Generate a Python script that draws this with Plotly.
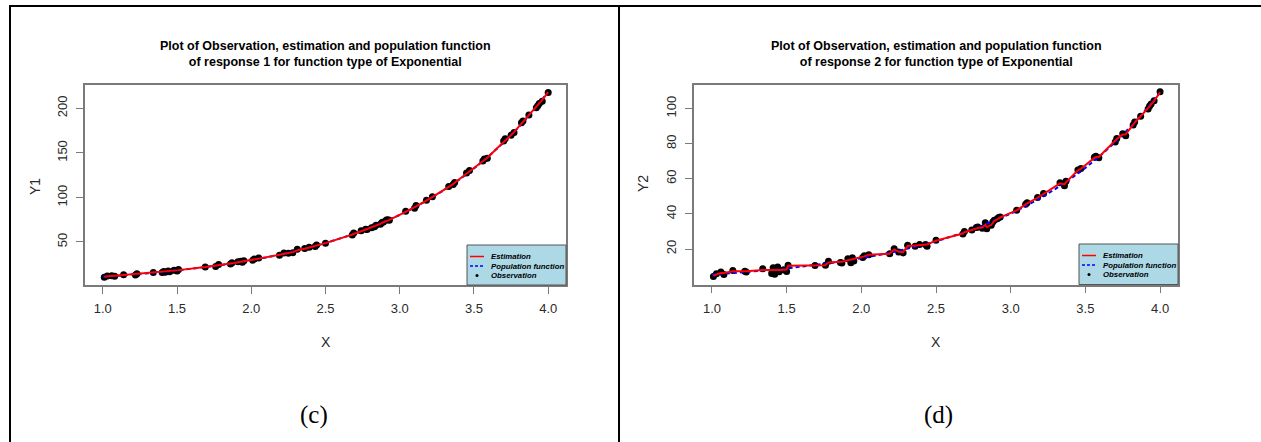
import plotly.graph_objects as go

# ---------------- data ----------------
X = [1.01, 1.03, 1.06, 1.08, 1.14, 1.22, 1.23, 1.34, 1.40, 1.41, 1.42, 1.44, 1.45, 1.48, 1.50, 1.51,
     1.69, 1.76, 1.78, 1.86, 1.87, 1.91, 1.93, 1.94, 1.95, 2.01, 2.02, 2.05, 2.19, 2.22, 2.25, 2.28,
     2.31, 2.36, 2.39, 2.43, 2.44, 2.50, 2.68, 2.69, 2.74, 2.77, 2.78, 2.81, 2.83, 2.84, 2.87, 2.88,
     2.89, 2.91, 2.92, 2.93, 3.04, 3.10, 3.11, 3.18, 3.22, 3.33, 3.36, 3.37, 3.45, 3.47, 3.56, 3.57,
     3.59, 3.70, 3.71, 3.75, 3.77, 3.82, 3.83, 3.87, 3.92, 3.93, 3.94, 3.96, 4.00]

Y1_obs = [10.5, 11.8, 12.2, 11.5, 13.2, 13.0, 14.2, 15.6, 15.8, 17.0, 16.1, 17.4, 16.6, 18.2, 17.5, 19.0,
          21.9, 22.6, 24.6, 25.2, 26.6, 27.8, 28.4, 27.3, 28.9, 29.6, 31.0, 32.0, 35.2, 37.6, 37.3, 38.0,
          41.8, 42.6, 44.2, 45.0, 46.6, 48.6, 57.8, 60.2, 62.5, 64.3, 63.9, 66.0, 67.2, 68.8, 70.0, 71.8,
          72.4, 74.6, 75.1, 74.3, 84.5, 88.0, 91.0, 97.0, 100.8, 112.2, 114.6, 116.9, 127.5, 130.2, 141.0, 143.2,
          144.0, 163.5, 166.0, 169.8, 173.0, 183.8, 186.0, 192.5, 200.8, 203.0, 205.5, 208.0, 218.0]

Y1_est = [11.0, 11.6, 12.0, 12.0, 12.9, 13.5, 13.7, 15.4, 16.0, 16.4, 16.5, 16.9, 17.0, 17.7, 17.9, 18.4,
          21.8, 23.2, 23.9, 25.6, 26.0, 27.2, 27.7, 27.9, 28.3, 29.8, 30.3, 31.3, 35.6, 36.9, 37.7, 38.6,
          40.6, 42.5, 43.8, 45.3, 45.9, 48.7, 58.2, 59.2, 62.1, 63.9, 64.3, 66.2, 67.5, 68.5, 70.3, 71.4,
          72.1, 73.8, 74.5, 74.9, 83.9, 88.6, 89.9, 96.4, 100.4, 111.9, 115.0, 116.5, 126.4, 129.1, 140.7, 142.3,
          144.6, 162.2, 164.0, 170.0, 173.4, 182.8, 184.7, 192.0, 201.4, 203.4, 205.6, 209.5, 218.2]

Y2_obs = [4.4, 5.9, 6.9, 5.5, 7.8, 7.4, 6.9, 8.8, 6.0, 9.3, 5.6, 9.8, 7.0, 8.2, 7.2, 10.7,
          10.6, 10.7, 13.1, 12.4, 12.0, 14.5, 12.2, 15.0, 13.2, 15.2, 16.2, 16.8, 17.3, 20.2, 18.3, 17.8,
          22.1, 21.6, 22.6, 22.6, 21.6, 25.0, 28.6, 30.0, 30.8, 32.2, 32.6, 31.8, 34.9, 31.6, 33.6, 35.4,
          36.4, 37.3, 37.9, 38.3, 42.1, 45.5, 46.3, 49.3, 51.6, 57.7, 56.0, 58.6, 65.0, 65.9, 72.2, 72.8,
          72.0, 81.0, 83.0, 85.6, 84.5, 90.6, 92.4, 95.6, 99.8, 101.4, 102.6, 104.4, 109.5]

Y2_est = [4.8, 5.6, 6.3, 6.4, 7.4, 7.3, 7.3, 8.0, 7.8, 7.9, 8.0, 8.0, 8.1, 8.2, 8.3, 10.5,
          10.6, 10.8, 12.4, 12.6, 12.8, 13.6, 14.0, 14.0, 14.2, 15.3, 15.8, 16.8, 17.3, 19.8, 18.5, 18.2,
          21.7, 22.0, 22.2, 22.4, 22.6, 24.8, 28.8, 29.6, 30.6, 31.6, 32.0, 32.2, 33.8, 32.4, 33.8, 35.0,
          36.0, 36.9, 37.5, 38.0, 42.0, 45.2, 46.0, 49.2, 51.5, 57.4, 56.8, 58.0, 64.8, 65.7, 71.9, 72.4,
          72.4, 81.4, 82.6, 85.2, 85.4, 90.8, 92.0, 95.6, 100.0, 101.2, 102.4, 104.4, 109.3]

X_pop = [1.0, 1.1, 1.2, 1.3, 1.4, 1.5, 1.6, 1.7, 1.8, 1.9, 2.0, 2.1, 2.2, 2.3, 2.4, 2.5,
         2.6, 2.7, 2.8, 2.9, 3.0, 3.1, 3.2, 3.3, 3.4, 3.5, 3.6, 3.7, 3.8, 3.9, 4.0]
Y1_pop = [10.87, 12.02, 13.28, 14.68, 16.22, 17.93, 19.81, 21.90, 24.20, 26.74, 29.56, 32.66, 36.10,
          39.90, 44.09, 48.73, 53.85, 59.52, 65.78, 72.70, 80.34, 88.79, 98.13, 108.45, 119.86, 132.46,
          146.39, 161.79, 178.80, 197.61, 218.39]
Y2_pop = [5.44, 6.01, 6.64, 7.34, 8.11, 8.96, 9.91, 10.95, 12.10, 13.37, 14.78, 16.33, 18.05, 19.95,
          22.05, 24.36, 26.93, 29.76, 32.89, 36.35, 40.17, 44.40, 49.07, 54.23, 59.93, 66.23, 73.20,
          80.89, 89.40, 98.80, 109.20]

X_TICKS = [1.0, 1.5, 2.0, 2.5, 3.0, 3.5, 4.0]
Y1_TICKS = [50, 100, 150, 200]
Y2_TICKS = [20, 40, 60, 80, 100]
LEGEND_LABELS = ["Estimation", "Population function", "Observation"]
TITLES = ["Plot of Observation, estimation and population function<br>of response 1 for function type of Exponential",
          "Plot of Observation, estimation and population function<br>of response 2 for function type of Exponential"]
Y_LABELS = ["Y1", "Y2"]
CAPTIONS = ["(c)", "(d)"]

# ---------------- layout helpers ----------------
W, H = 1261, 442
def fx(p):
    return p / W
def fy(p):
    return 1 - p / H

SANS = "Liberation Sans, Arial, sans-serif"
SERIF = "Liberation Serif, Times New Roman, serif"
AXIS_GRAY = "#7a7a7a"
TEXT_DARK = "#2a2a2a"

panels = [
    dict(box=(85, 566, 85, 285), ylim=(1.7, 226.3), yt=Y1_TICKS, y_obs=Y1_obs, y_est=Y1_est, y_pop=Y1_pop,
         ylab_x=35, ylab_y=187, cap_x=314, leg=(467, 566, 245, 285)),
    dict(box=(694, 1178, 84.5, 284.5), ylim=(-0.2, 113.7), yt=Y2_TICKS, y_obs=Y2_obs, y_est=Y2_est, y_pop=Y2_pop,
         ylab_x=643, ylab_y=184, cap_x=938, leg=(1079, 1178, 244, 284.5)),
]

fig = go.Figure()
shapes = []
annotations = []

for i, p in enumerate(panels):
    ax = "" if i == 0 else str(i + 1)
    xa, ya = "x" + ax, "y" + ax
    fig.add_trace(go.Scatter(x=X, y=p["y_obs"], mode="markers", xaxis=xa, yaxis=ya,
                             marker=dict(color="black", size=7), name="Observation", showlegend=False))
    fig.add_trace(go.Scatter(x=X_pop, y=p["y_pop"], mode="lines", xaxis=xa, yaxis=ya,
                             line=dict(color="blue", width=2, dash="4px,3px"), name="Population function",
                             showlegend=False))
    fig.add_trace(go.Scatter(x=X, y=p["y_est"], mode="lines", xaxis=xa, yaxis=ya,
                             line=dict(color="red", width=2), name="Estimation", showlegend=False))

    x0, x1, y0, y1 = p["box"]
    common = dict(showline=True, mirror=True, linecolor=AXIS_GRAY, linewidth=1.5, showgrid=False,
                  zeroline=False, ticks="outside", ticklen=7, tickwidth=1.2, tickcolor=AXIS_GRAY,
                  tickfont=dict(family=SANS, size=13, color=TEXT_DARK))
    fig.update_layout(**{
        "xaxis" + ax: dict(domain=[fx(x0), fx(x1)], range=[0.88, 4.12], tickvals=X_TICKS,
                           tickformat=".1f", anchor=ya, ticklabelstandoff=4, **common),
        "yaxis" + ax: dict(domain=[fy(y1), fy(y0)], range=list(p["ylim"]), tickvals=p["yt"],
                           tickangle=-90, anchor=xa, ticklabelstandoff=4, **common),
    })

    cx = (x0 + x1) / 2
    annotations.append(dict(text="<b>" + TITLES[i] + "</b>", x=fx(cx), y=fy(54), xref="paper", yref="paper",
                            xanchor="center", yanchor="middle", showarrow=False,
                            font=dict(family=SANS, size=12.5, color="black")))
    annotations.append(dict(text="X", x=fx(cx), y=fy(342), xref="paper", yref="paper",
                            xanchor="center", yanchor="middle", showarrow=False,
                            font=dict(family=SANS, size=14, color=TEXT_DARK)))
    annotations.append(dict(text=Y_LABELS[i], x=fx(p["ylab_x"]), y=fy(p["ylab_y"]), xref="paper", yref="paper",
                            xanchor="center", yanchor="middle", showarrow=False, textangle=-90,
                            font=dict(family=SANS, size=14, color=TEXT_DARK)))
    annotations.append(dict(text=CAPTIONS[i], x=fx(p["cap_x"]), y=fy(415), xref="paper", yref="paper",
                            xanchor="center", yanchor="middle", showarrow=False,
                            font=dict(family=SERIF, size=25, color="black")))

    # legend box (drawn manually to match the compact R legend)
    lx0, lx1, ly0, ly1 = p["leg"]
    shapes.append(dict(type="rect", xref="paper", yref="paper", x0=fx(lx0), x1=fx(lx1), y0=fy(ly1), y1=fy(ly0),
                       fillcolor="#ADD8E6", line=dict(color="#555555", width=1)))
    rows = [ly0 + 11.5, ly0 + 21, ly0 + 30.5]
    shapes.append(dict(type="line", xref="paper", yref="paper", x0=fx(lx0 + 3), x1=fx(lx0 + 17),
                       y0=fy(rows[0]), y1=fy(rows[0]), line=dict(color="red", width=1.5)))
    shapes.append(dict(type="line", xref="paper", yref="paper", x0=fx(lx0 + 3), x1=fx(lx0 + 17),
                       y0=fy(rows[1]), y1=fy(rows[1]), line=dict(color="blue", width=1.5, dash="3px,2px")))
    shapes.append(dict(type="circle", xref="paper", yref="paper", x0=fx(lx0 + 8.5), x1=fx(lx0 + 11.5),
                       y0=fy(rows[2] + 1.5), y1=fy(rows[2] - 1.5), fillcolor="black", line=dict(width=0)))
    for lab, ry in zip(LEGEND_LABELS, rows):
        annotations.append(dict(text=lab, x=fx(lx0 + 22), y=fy(ry), xref="paper", yref="paper",
                                xanchor="left", yanchor="middle", showarrow=False,
                                font=dict(family=SANS, size=7.8, color="black", style="italic", weight="bold")))

# outer document frame lines
frame = dict(color="black", width=2)
shapes.append(dict(type="line", xref="paper", yref="paper", x0=fx(9), x1=fx(1261), y0=fy(6), y1=fy(6), line=frame))
shapes.append(dict(type="line", xref="paper", yref="paper", x0=fx(10), x1=fx(10), y0=fy(5), y1=fy(442), line=frame))
shapes.append(dict(type="line", xref="paper", yref="paper", x0=fx(619), x1=fx(619), y0=fy(5), y1=fy(442), line=frame))

fig.update_layout(width=W, height=H, margin=dict(l=0, r=0, t=0, b=0), paper_bgcolor="white",
                  plot_bgcolor="white", showlegend=False, shapes=shapes, annotations=annotations)

fig.write_html("out.html")
